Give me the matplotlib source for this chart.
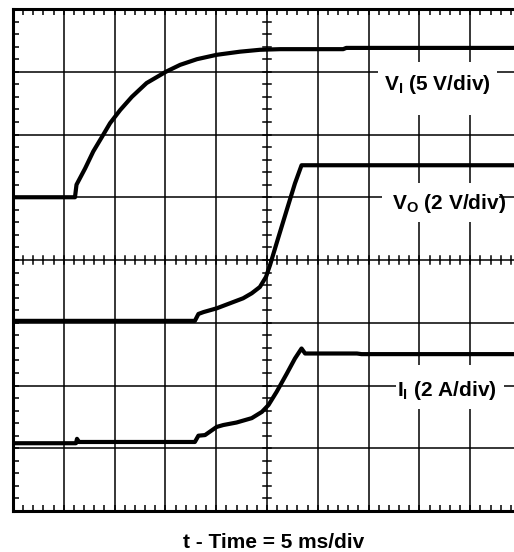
import numpy as np
import matplotlib
matplotlib.use('Agg')
import matplotlib.pyplot as plt
from matplotlib.patches import Rectangle

plt.rcParams['font.family'] = ['Liberation Sans', 'DejaVu Sans']
plt.rcParams['mathtext.fontset'] = 'custom'
plt.rcParams['mathtext.bf'] = 'Liberation Sans:bold'
plt.rcParams['mathtext.rm'] = 'Liberation Sans:bold'
plt.rcParams['mathtext.default'] = 'bf'

# trace data, in screen divisions (x: 0..10, y: 0..8)
vi_t = [0, 1.22, 1.25, 1.42, 1.58, 1.75, 1.91, 2.11, 2.34, 2.63, 3.01, 3.29, 3.62, 4.01,
        4.47, 4.86, 5.26, 6.50, 6.56, 10]
vi_v = [5.00, 5.00, 5.20, 5.46, 5.73, 5.96, 6.18, 6.39, 6.60, 6.82, 7.00, 7.11, 7.20, 7.27,
        7.32, 7.35, 7.36, 7.36, 7.38, 7.38]

vo_t = [0, 3.58, 3.65, 3.75, 4.01, 4.27, 4.53, 4.70, 4.86, 4.98, 5.06, 5.19, 5.39, 5.55, 5.68, 10]
vo_v = [3.03, 3.03, 3.14, 3.17, 3.23, 3.31, 3.39, 3.47, 3.57, 3.73, 3.92, 4.27, 4.80, 5.22, 5.51, 5.51]

ii_t = [0, 1.24, 1.26, 1.30, 3.58, 3.65, 3.78, 4.01, 4.14, 4.40, 4.70, 4.90, 5.03, 5.19, 5.39,
        5.55, 5.68, 5.75, 6.77, 6.86, 10]
ii_v = [1.08, 1.08, 1.15, 1.10, 1.10, 1.20, 1.21, 1.34, 1.37, 1.41, 1.48, 1.58, 1.69, 1.90, 2.19,
        2.43, 2.59, 2.51, 2.51, 2.50, 2.50]

labels = [r'V$_\mathregular{I}$ (5 V/div)', r'V$_\mathregular{O}$ (2 V/div)', r'I$_\mathregular{I}$ (2 A/div)']

fig = plt.figure(figsize=(5.14, 5.52), dpi=100)
ax = fig.add_axes([13 / 514, 41 / 552, 508 / 514, 502 / 552])
ax.set_xlim(0, 10)
ax.set_ylim(0, 8)

# graticule
for xv in range(1, 10):
    ax.axvline(xv, color='black', lw=1.1, zorder=1)
for yv in range(1, 8):
    ax.axhline(yv, color='black', lw=1.1, zorder=1)

# small ticks along the centre cross
for xv in np.arange(0, 10.01, 0.2):
    ax.plot([xv, xv], [4 - 0.06, 4 + 0.06], color='black', lw=1.1, zorder=1)
for yv in np.arange(0, 8.01, 0.2):
    ax.plot([5 - 0.075, 5 + 0.075], [yv, yv], color='black', lw=1.1, zorder=1)

ax.set_xticks(np.arange(0, 10.01, 0.2))
ax.set_yticks(np.arange(0, 8.01, 0.2))
ax.tick_params(direction='in', length=4, width=1.1, top=True, bottom=True, left=True, right=False,
               labelbottom=False, labelleft=False)
for s in ['left', 'top', 'bottom']:
    ax.spines[s].set_linewidth(2.2)
ax.spines['right'].set_visible(False)

# white boxes behind the labels
boxes = [(7.19, 6.31, 2.34, 0.85), (7.26, 4.60, 2.30, 0.62), (7.54, 1.63, 2.12, 0.70)]
for (bx, by, bw, bh) in boxes:
    ax.add_patch(Rectangle((bx, by), bw, bh, facecolor='white', edgecolor='none', zorder=2))

ax.plot(vi_t, vi_v, color='black', lw=3.0, zorder=3, solid_joinstyle='round')
ax.plot(vo_t, vo_v, color='black', lw=3.0, zorder=3, solid_joinstyle='round')
ax.plot(ii_t, ii_v, color='black', lw=3.0, zorder=3, solid_joinstyle='round')

label_pos = [(8.36, 6.80), (8.59, 4.90), (8.54, 1.92)]
for (lx, ly), txt in zip(label_pos, labels):
    ax.text(lx, ly, txt, fontsize=15, fontweight='bold', ha='center', va='center', zorder=4)

fig.text(274 / 514, 1 - 542 / 552, 't - Time = 5 ms/div', fontsize=15, fontweight='bold',
         ha='center', va='center')

fig.savefig('out.png', dpi=100)
